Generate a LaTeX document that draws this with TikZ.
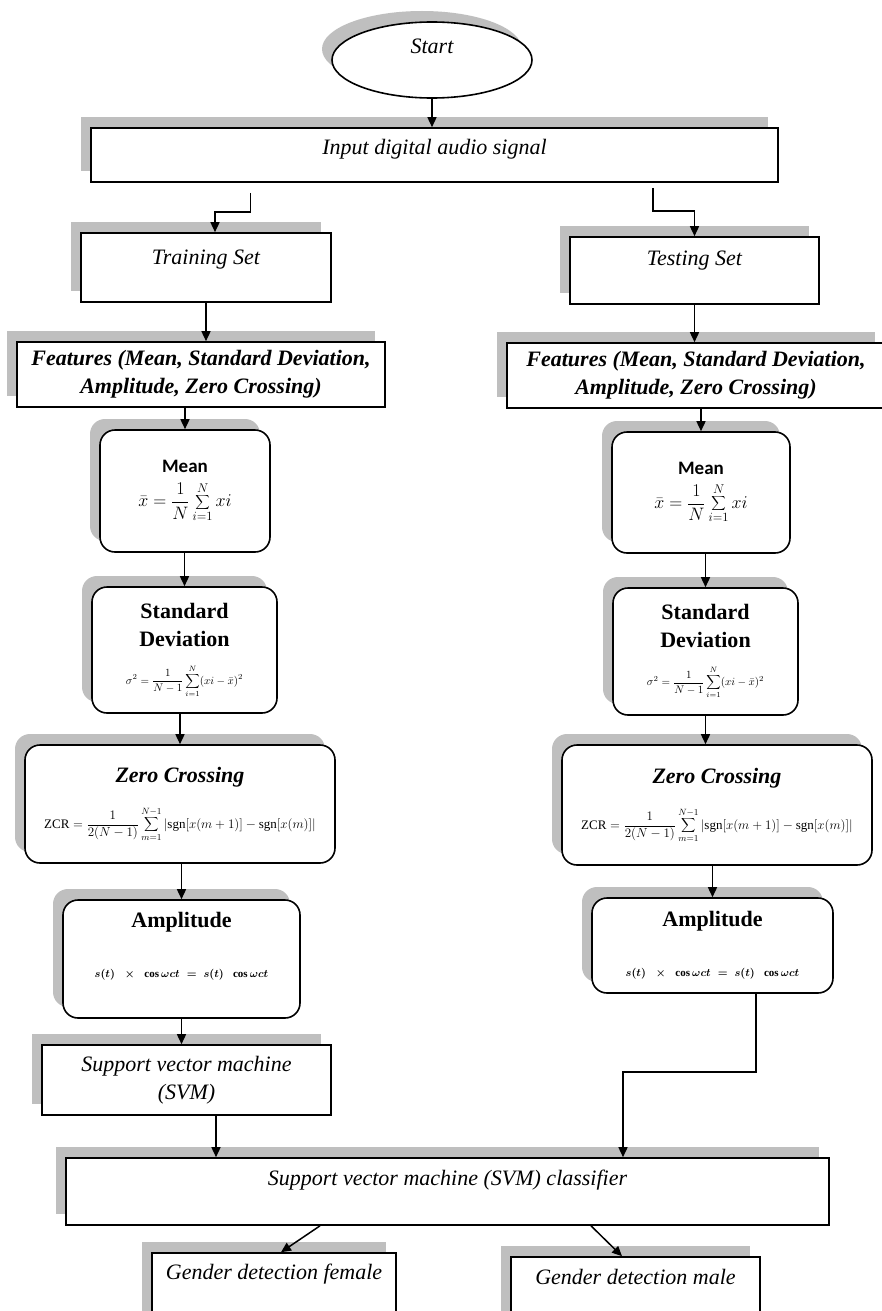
\RequirePackage{fix-cm}
\documentclass[tikz,border=0pt]{standalone}
\usepackage{fontspec}
\setmainfont{Liberation Serif}
\newfontfamily\calibri{Carlito}
\usetikzlibrary{shapes.geometric}
\usetikzlibrary{arrows.meta}
\usetikzlibrary{shadows}

\definecolor{shadowgrey}{HTML}{BFBFBF}
\newcommand{\bigtxt}{\fontsize{22}{28}\selectfont}
\newcommand{\meanf}{{\fontsize{18}{21}\selectfont$\displaystyle\bar{x}=\frac{1}{N}\sum_{i=1}^{N}xi$}}
\newcommand{\sdf}{{\fontsize{11}{13}\selectfont$\displaystyle\sigma^{2}=\frac{1}{N-1}\sum_{i=1}^{N}(xi-\bar{x})^{2}$}}
\newcommand{\zcrf}{{\fontsize{13}{15}\selectfont$\displaystyle\mathrm{ZCR}=\frac{1}{2(N-1)}\sum_{m=1}^{N-1}\left|\mathrm{sgn}[x(m+1)]-\mathrm{sgn}[x(m)]\right|$}}
\newcommand{\ampf}{{\fontsize{11}{13}\selectfont\boldmath$s(t)\;\;\times\;\;\cos\omega ct\;=\;s(t)\;\;\cos\omega ct$}}

\begin{document}
\begin{tikzpicture}[x=1pt,y=-1pt,
		shadowed/.style={general shadow={fill=shadowgrey,shadow xshift=-10pt,shadow yshift=11pt}},
		flowbox/.style={draw,line width=1.6pt,fill=white,shadowed,inner sep=0pt,align=center,font=\bigtxt\itshape},
		roundbox/.style={flowbox,rounded corners=15pt,font=\bigtxt},
		lift/.style={text height=16pt,text depth=#1},
		arr/.style={line width=1.5pt,-{Triangle[length=10pt,width=9pt]}}]
		\fill[white] (0,0) rectangle (882,1311);
		\useasboundingbox (0,0) rectangle (882,1311);

		\node[ellipse,flowbox,minimum width=200pt,minimum height=76pt,lift=28pt] (start) at (432,60) {Start};
		\node[flowbox,minimum width=687pt,minimum height=54pt,lift=18pt] (input) at (434.5,155) {Input digital audio signal};
		\node[flowbox,minimum width=250pt,minimum height=69pt,lift=23pt] (train) at (206,267.5) {Training Set};
		\node[flowbox,minimum width=249pt,minimum height=67pt,lift=27pt] (test) at (694.5,270.5) {Testing Set};
		\node[flowbox,font=\bigtxt\bfseries\itshape,minimum width=368pt,minimum height=65pt] (featL) at (201,374.5) {Features (Mean, Standard Deviation,\\Amplitude, Zero Crossing)};
		\node[flowbox,font=\bigtxt\bfseries\itshape,minimum width=378pt,minimum height=65pt] (featR) at (696,375.5) {Features (Mean, Standard Deviation,\\Amplitude, Zero Crossing)};

		\node[roundbox,minimum width=170pt,minimum height=122pt] (meanL) at (185,491) {{\calibri\bfseries\fontsize{19}{23}\selectfont Mean}\\[6pt]\meanf};
		\node[roundbox,minimum width=178pt,minimum height=121pt] (meanR) at (701,492.5) {{\calibri\bfseries\fontsize{19}{23}\selectfont Mean}\\[6pt]\meanf};
		\node[roundbox,minimum width=185pt,minimum height=126pt] (sdL) at (184.5,650) {\textbf{Standard}\\\textbf{Deviation}\\[10pt]\sdf};
		\node[roundbox,minimum width=185pt,minimum height=127pt] (sdR) at (705.5,651.5) {\textbf{Standard}\\\textbf{Deviation}\\[10pt]\sdf};
		\node[roundbox,minimum width=310pt,minimum height=118pt] (zcL) at (180,804) {\textbf{\textit{Zero Crossing}}\\[18pt]\zcrf};
		\node[roundbox,minimum width=310pt,minimum height=120pt] (zcR) at (717,805) {\textbf{\textit{Zero Crossing}}\\[18pt]\zcrf};
		\node[roundbox,minimum width=237pt,minimum height=118pt] (ampL) at (181.5,959) {\textbf{Amplitude}\\[22pt]\ampf\rule[-28pt]{0pt}{28pt}};
		\node[roundbox,minimum width=241pt,minimum height=95pt] (ampR) at (712.5,945.5) {\textbf{Amplitude}\\[22pt]\ampf};

		\node[flowbox,minimum width=289pt,minimum height=70pt] (svm) at (186.5,1080) {Support vector machine\\(SVM)};
		\node[flowbox,minimum width=763pt,minimum height=67pt,lift=29pt] (cls) at (447.5,1191.5) {Support vector machine (SVM) classifier};
		\node[flowbox,minimum width=244pt,minimum height=77pt,lift=41pt] (female) at (274,1291.5) {Gender detection female};
		\node[flowbox,minimum width=249pt,minimum height=73pt,lift=35pt] (male) at (635.5,1293.5) {Gender detection male};

		\draw[arr] (start.south) -- (start.south |- input.north);
		\draw[arr] ([xshift=-184pt,yshift=-10pt]input.south) |- ([xshift=9pt,yshift=20pt]train.north) -- ([xshift=9pt]train.north);
		\draw[arr] ([xshift=218.5pt,yshift=-5pt]input.south) |- ([yshift=25pt]test.north) -- (test.north);
		\draw[arr] (train.south) -- (train.south |- featL.north);
		\draw[arr] (test.south) -- (test.south |- featR.north);
		\draw[arr] (featL.south -| meanL) -- (meanL.north);
		\draw[arr] (featR.south -| meanR) -- (meanR.north);
		\draw[arr] (meanL.south -| sdL) -- (sdL.north);
		\draw[arr] (meanR.south -| sdR) -- (sdR.north);
		\draw[arr] (sdL.south -| zcL) -- (zcL.north);
		\draw[arr] (sdR.south) -- (sdR.south |- zcR.north);
		\draw[arr] (zcL.south -| ampL) -- (ampL.north);
		\draw[arr] (zcR.south -| ampR) -- (ampR.north);
		\draw[arr] (ampL.south) -- (ampL.south |- svm.north);
		\draw[arr] ([xshift=29.5pt]svm.south) -- ([xshift=29.5pt]svm.south |- cls.north);
		\draw[arr] ([xshift=43.5pt]ampR.south) -- ++(0,78) -| ([xshift=175.5pt]cls.north);
		\draw[arr] ([xshift=-127.5pt]cls.south) -- ([xshift=7pt]female.north);
		\draw[arr] ([xshift=143.5pt]cls.south) -- ([xshift=-13.5pt]male.north);
	\end{tikzpicture}
\end{document}
